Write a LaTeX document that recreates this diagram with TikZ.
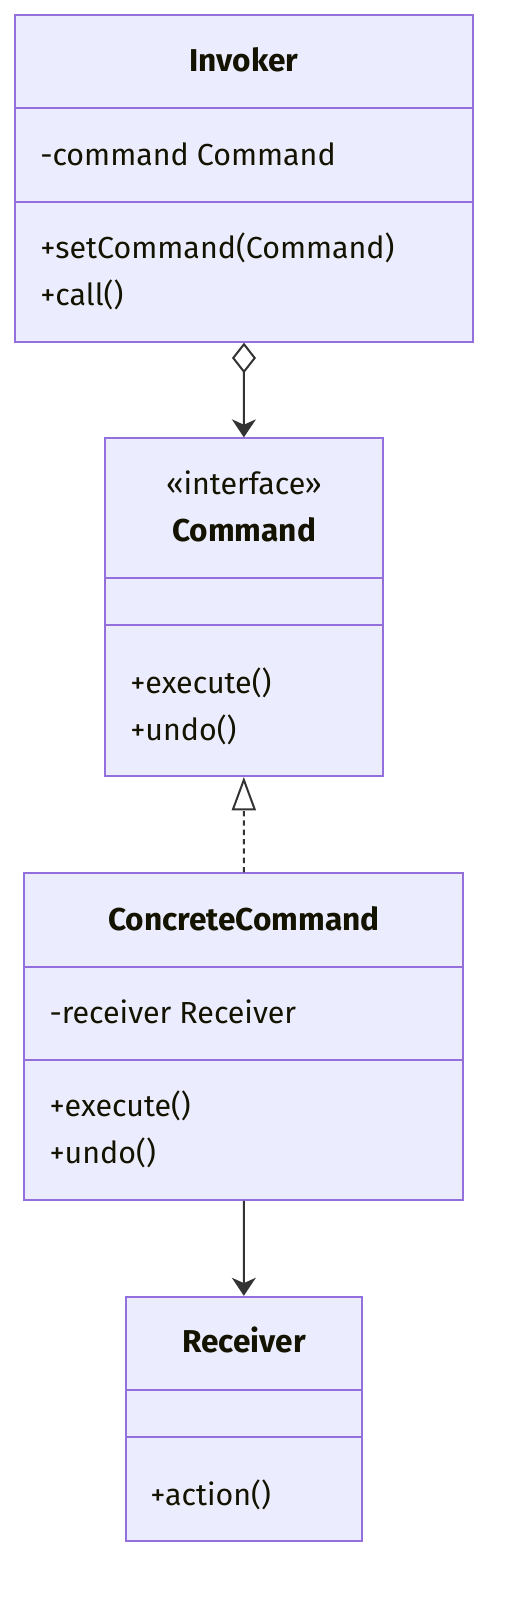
\documentclass[tikz,border=0pt]{standalone}
\usepackage{fontspec}
\setmainfont{Fira Sans}
\usetikzlibrary{arrows.meta,fit}
\definecolor{clsfill}{RGB}{236,236,255}
\definecolor{clsline}{RGB}{147,112,219}
\definecolor{ink}{RGB}{51,51,51}
\definecolor{txt}{RGB}{19,19,0}
\tikzset{
  cls/.style={draw=clsline,fill=clsfill,line width=1.4pt,inner sep=0pt},
  sep/.style={draw=clsline,line width=1.4pt},
  ttl/.style={anchor=base,inner sep=0pt,text=txt,font=\fontsize{23.7}{28}\selectfont\bfseries},
  mbr/.style={anchor=base west,inner sep=0pt,text=txt,font=\fontsize{22.8}{27}\selectfont},
  rel/.style={draw=ink,line width=1.5pt},
  aggr/.style={rel,{Diamond[open,length=23pt,width=18pt]}-{Stealth[length=13.5pt,width=18pt,inset=4pt]}},
  impl/.style={rel,dash pattern=on 4pt off 3pt,-{Triangle[open,length=25pt,width=18pt]}},
  assoc/.style={rel,-{Stealth[length=13.5pt,width=18pt,inset=4pt]}},
}

\begin{document}
\begin{tikzpicture}[x=0.75pt,y=-0.75pt]
  \useasboundingbox (0,0) rectangle (504,1604);
  % Invoker
  \node[cls,fit={(15.3,15.3) (472.7,341.7)}] (inv) {};
  \draw[sep] (15.3,108.3) -- (472.7,108.3);
  \draw[sep] (15.3,201.7) -- (472.7,201.7);
  \node[ttl] (invT) at (244,71.7) {Invoker};
  \node[mbr] (invA) at (40,165) {-command Command};
  \node[mbr] (invM1) at (40,258.3) {+setCommand(Command)};
  \node[mbr] (invM2) at (40,305) {+call()};
  % Command
  \node[cls,fit={(105,438.3) (382.7,776)}] (cmd) {};
  \draw[sep] (105,578.3) -- (382.7,578.3);
  \draw[sep] (105,625) -- (382.7,625);
  \node[ttl,font=\fontsize{22.8}{27}\selectfont] (cmdS) at (244,494.3) {«interface»};
  \node[ttl] (cmdT) at (244,541.7) {Command};
  \node[mbr] (cmdM1) at (130,693.3) {+execute()};
  \node[mbr] (cmdM2) at (130,740) {+undo()};
  % ConcreteCommand
  \node[cls,fit={(24.3,873.3) (463.3,1200)}] (cc) {};
  \draw[sep] (24.3,966.7) -- (463.3,966.7);
  \draw[sep] (24.3,1060) -- (463.3,1060);
  \node[ttl] (ccT) at (244,930) {ConcreteCommand};
  \node[mbr] (ccA) at (49.3,1023.3) {-receiver Receiver};
  \node[mbr] (ccM1) at (49.3,1116.7) {+execute()};
  \node[mbr] (ccM2) at (49.3,1163.3) {+undo()};
  % Receiver
  \node[cls,fit={(126,1296.7) (361.7,1540.7)}] (rcv) {};
  \draw[sep] (126,1390) -- (361.7,1390);
  \draw[sep] (126,1436.7) -- (361.7,1436.7);
  \node[ttl] (rcvT) at (244,1352.7) {Receiver};
  \node[mbr] (rcvM1) at (150,1505) {+action()};

  % relations
  \draw[aggr] (inv.south) -- (cmd.north);
  \draw[impl] (cc.north) -- (cmd.south);
  \draw[assoc] (cc.south) -- (rcv.north);
\end{tikzpicture}
\end{document}
